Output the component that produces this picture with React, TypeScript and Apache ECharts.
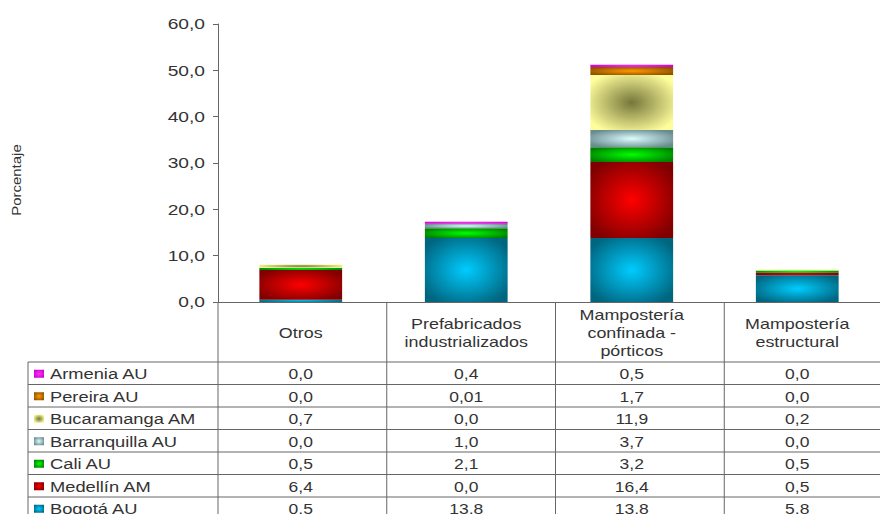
import React, { useEffect, useRef } from "react";
import * as echarts from "echarts";

// ---------- data ----------
const categories = [
  "Otros",
  "Prefabricados\nindustrializados",
  "Mampostería\nconfinada -\npórticos",
  "Mampostería\nestructural",
];
const seriesNames = [
  "Bogotá AU",
  "Medellín AM",
  "Cali AU",
  "Barranquilla AU",
  "Bucaramanga AM",
  "Pereira AU",
  "Armenia AU",
];
const bogota = [0.5, 13.8, 13.8, 5.8];
const medellin = [6.4, 0.0, 16.4, 0.5];
const cali = [0.5, 2.1, 3.2, 0.5];
const barranquilla = [0.0, 1.0, 3.7, 0.0];
const bucaramanga = [0.7, 0.0, 11.9, 0.2];
const pereira = [0.0, 0.01, 1.7, 0.0];
const armenia = [0.0, 0.4, 0.5, 0.0];
const seriesValues = [bogota, medellin, cali, barranquilla, bucaramanga, pereira, armenia];
const yTicks = [0, 10, 20, 30, 40, 50, 60];
const yTitle = "Porcentaje";

// [center, edge] colours
const seriesColors: [string, string][] = [
  ["#00ccff", "#006680"],
  ["#ff0000", "#800000"],
  ["#00ff00", "#008000"],
  ["#dcfcfc", "#688a90"],
  ["#76763a", "#fdfd9c"],
  ["#ff9900", "#905000"],
  ["#ff33ff", "#cc00cc"],
];

// ---------- layout ----------
const GRID_LEFT = 218;
const GRID_TOP = 24;
const GRID_W = 675;
const GRID_H = 278;
const AXIS_Y = GRID_TOP + GRID_H; // 302
const TABLE_LEFT = 28;
const ROWS_TOP = 362;
const ROW_H = 22.5;
const LINE_COLOR = "#666";
const TEXT_COLOR = "#333";
const FONT = '"Liberation Sans", Arial, sans-serif';
const STRETCH = 1.28;

const fmt = (v: number) =>
  (v > 0 && v < 0.1 ? v.toFixed(2) : v.toFixed(1)).replace(".", ",");

const grad = (c: [string, string]) =>
  new echarts.graphic.RadialGradient(0.5, 0.5, 0.6, [
    { offset: 0, color: c[0] },
    { offset: 1, color: c[1] },
  ]);

export default function App() {
  const ref = useRef<HTMLDivElement>(null);

  useEffect(() => {
    if (!ref.current) return;
    const chart = echarts.init(ref.current, null, { renderer: "svg" });

    chart.setOption({
      animation: false,
      grid: { left: GRID_LEFT, top: GRID_TOP, width: GRID_W, height: GRID_H },
      xAxis: {
        type: "category",
        data: categories,
        axisLine: { lineStyle: { color: LINE_COLOR, width: 1 } },
        axisTick: { show: false },
        axisLabel: { show: false },
      },
      yAxis: {
        type: "value",
        min: yTicks[0],
        max: yTicks[yTicks.length - 1],
        interval: 10,
        axisLine: { show: true, lineStyle: { color: LINE_COLOR, width: 1 } },
        axisTick: { show: true, length: 5, lineStyle: { color: LINE_COLOR } },
        splitLine: { show: false },
        axisLabel: { show: false },
      },
      series: seriesNames.map((name, i) => ({
        name,
        type: "bar",
        stack: "total",
        barWidth: "50%",
        data: seriesValues[i],
        itemStyle: { color: grad(seriesColors[i]) },
      })),
    });

    const colW = GRID_W / categories.length;
    const graphic: any[] = [];
    const txt = (text: string, x: number, y: number, size: number, align: string, extra: any = {}) => ({
      type: "text",
      x,
      y,
      scaleX: STRETCH,
      ...extra,
      style: {
        text,
        fill: TEXT_COLOR,
        font: `${size}px ${FONT}`,
        align,
        verticalAlign: "middle",
        ...(extra.style || {}),
      },
    });

    // y tick labels (positions from the axis scale)
    yTicks.forEach((v) => {
      const py = chart.convertToPixel({ yAxisIndex: 0 }, v) as number;
      graphic.push(txt(v.toFixed(1).replace(".", ","), GRID_LEFT - 13, py, 15, "right"));
    });
    // y axis title
    graphic.push({
      type: "text",
      x: 16,
      y: 180,
      rotation: Math.PI / 2,
      scaleX: 1.15,
      style: {
        text: yTitle,
        fill: TEXT_COLOR,
        font: `13px ${FONT}`,
        align: "center",
        verticalAlign: "middle",
      },
    });
    // category header labels
    categories.forEach((c, i) => {
      const px = chart.convertToPixel({ xAxisIndex: 0 }, i) as number;
      graphic.push(txt(c, px, AXIS_Y + 31, 14, "center", { style: { lineHeight: 18 } }));
    });

    const nRows = seriesNames.length;
    const tableBottom = ROWS_TOP + ROW_H * nRows;
    for (let i = 0; i <= nRows; i++) {
      const y = ROWS_TOP + i * ROW_H;
      graphic.push({
        type: "line",
        shape: { x1: TABLE_LEFT, y1: y, x2: GRID_LEFT + GRID_W, y2: y },
        style: { stroke: LINE_COLOR, lineWidth: 1 },
      });
    }
    graphic.push({
      type: "line",
      shape: { x1: TABLE_LEFT, y1: ROWS_TOP, x2: TABLE_LEFT, y2: tableBottom },
      style: { stroke: LINE_COLOR, lineWidth: 1 },
    });
    for (let c = 0; c <= categories.length; c++) {
      const x = GRID_LEFT + c * colW;
      graphic.push({
        type: "line",
        shape: { x1: x, y1: AXIS_Y, x2: x, y2: tableBottom },
        style: { stroke: LINE_COLOR, lineWidth: 1 },
      });
    }
    for (let r = 0; r < nRows; r++) {
      const s = nRows - 1 - r;
      const cy = ROWS_TOP + r * ROW_H + ROW_H / 2 + 1;
      graphic.push({
        type: "rect",
        shape: { x: 34, y: cy - 4.5, width: 10, height: 8 },
        style: { fill: grad(seriesColors[s]) },
      });
      graphic.push(txt(seriesNames[s], 50, cy, 15, "left", { scaleX: 1.22 }));
      for (let c = 0; c < categories.length; c++) {
        const px = chart.convertToPixel({ xAxisIndex: 0 }, c) as number;
        graphic.push(txt(fmt(seriesValues[s][c]), px, cy, 14, "center", { scaleX: 1.25 }));
      }
    }

    chart.setOption({ graphic });

    return () => chart.dispose();
  }, []);

  return <div ref={ref} style={{ width: 880, height: 514, position: "absolute", left: 0, top: 0 }} />;
}
